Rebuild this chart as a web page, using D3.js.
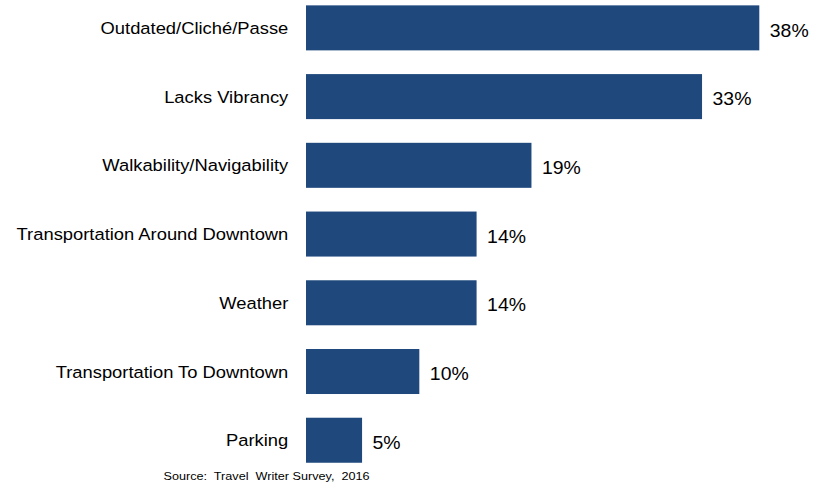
<!DOCTYPE html>
<html>
<head>
<meta charset="utf-8">
<script src="https://cdn.jsdelivr.net/npm/d3@7"></script>
<style>
	html, body { margin: 0; padding: 0; background: #fff; }
	svg { display: block; }
	text { font-family: "Liberation Sans", Arial, sans-serif; fill: #000; }
</style>
</head>
<body>
<div id="chart"></div>
<script>
// categories, top to bottom
var categories = [
	"Outdated/Cliché/Passe",
	"Lacks Vibrancy",
	"Walkability/Navigability",
	"Transportation Around Downtown",
	"Weather",
	"Transportation To Downtown",
	"Parking"
];
// share of writers, % (bar lengths)
var values = [38, 33.2, 18.9, 14.3, 14.3, 9.5, 4.7];
// printed labels
var valueLabels = ["38%", "33%", "19%", "14%", "14%", "10%", "5%"];
var sourceNote = "Source:  Travel  Writer Survey,  2016";

var width = 818, height = 484;
var barColor = "#1f497d";
var stretch = 1.08; // the original text is a bit wide

var svg = d3.select("#chart").append("svg")
	.attr("width", width)
	.attr("height", height);

var x = d3.scaleLinear()
	.domain([0, 38])
	.range([306, 759.3]);

var y = d3.scaleBand()
	.domain(categories)
	.range([-6.5, 474.6])
	.paddingInner(0.345)
	.paddingOuter(0.1725);

function wideText(sel, px, py, k){
	sel.attr("transform", function(d, i){
		return "translate(" + px(d, i) + "," + py(d, i) + ") scale(" + (k || stretch) + ",1)";
	});
}

var rows = svg.append("g").attr("class", "bars")
	.selectAll("g")
	.data(categories)
	.join("g");

rows.append("rect")
	.attr("x", x(0))
	.attr("y", function(d){ return y(d); })
	.attr("width", function(d, i){ return x(values[i]) - x(0); })
	.attr("height", y.bandwidth())
	.attr("fill", barColor);

rows.append("text")
	.style("font-size", "18px")
	.text(function(d, i){ return valueLabels[i]; })
	.call(wideText,
		function(d, i){ return x(values[i]) + 10.5; },
		function(d){ return y(d) + y.bandwidth() / 2 + 8.7; });

// category axis, no line or ticks
var yAxis = svg.append("g")
	.attr("transform", "translate(" + (x(0) - 17.7) + ",0)")
	.call(d3.axisLeft(y).tickSize(0).tickPadding(0));
yAxis.select(".domain").remove();
yAxis.selectAll("text")
	.attr("dy", null)
	.attr("x", null)
	.attr("transform", "translate(0,6) scale(" + stretch + ",1)")
	.style("font-size", "17px")
	.style("font-family", "'Liberation Sans', Arial, sans-serif")
	.attr("fill", "#000");

svg.append("text")
	.style("font-size", "11px")
	.style("white-space", "pre")
	.attr("transform", "translate(163.5,480.3) scale(1.15,1)")
	.text(sourceNote);
</script>
</body>
</html>
